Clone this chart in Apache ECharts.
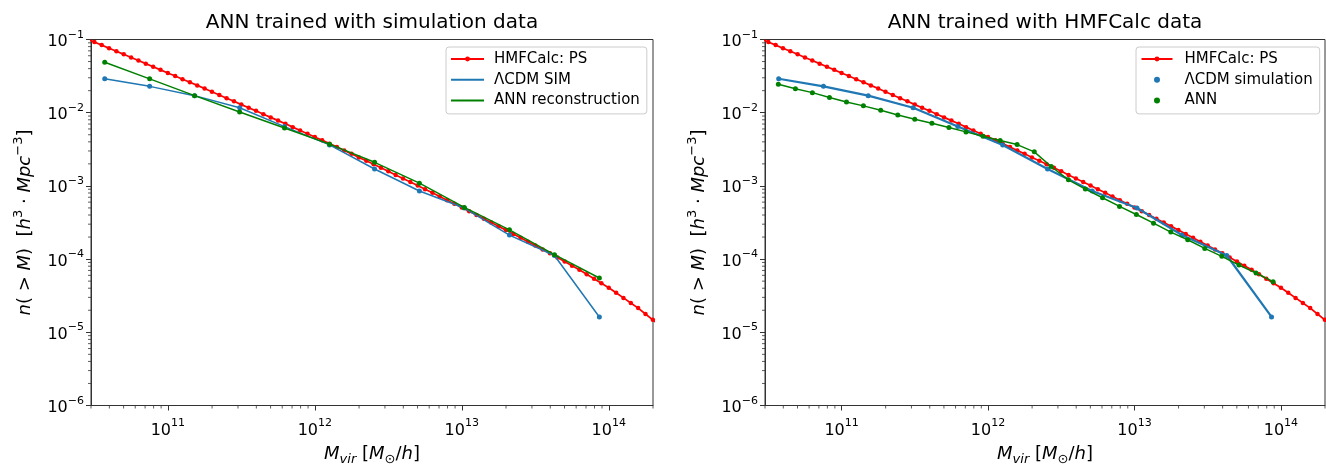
<!DOCTYPE html>
<html>
<head>
<meta charset="utf-8">
<title>Halo mass function: ANN reconstructions</title>
<script src="https://cdn.jsdelivr.net/npm/echarts@6/dist/echarts.min.js"></script>
<style>
  html, body { margin: 0; padding: 0; background: #ffffff; }
  #chart { width: 1326px; height: 464px; }
</style>
</head>
<body>
<div id="chart"></div>
<script>
// Press-Schechter cumulative mass function (HMFCalc), M in M_sun/h, n(>M) in h^3 Mpc^-3
const psMass = [
  2.818e10, 3.162e10, 3.548e10, 3.981e10, 4.467e10, 5.012e10, 5.623e10, 6.310e10, 7.079e10, 7.943e10, 8.913e10,
  1.000e11, 1.122e11, 1.259e11, 1.413e11, 1.585e11, 1.778e11, 1.995e11, 2.239e11, 2.512e11, 2.818e11,
  3.162e11, 3.548e11, 3.981e11, 4.467e11, 5.012e11, 5.623e11, 6.310e11, 7.079e11, 7.943e11, 8.913e11,
  1.000e12, 1.122e12, 1.259e12, 1.413e12, 1.585e12, 1.778e12, 1.995e12, 2.239e12, 2.512e12, 2.818e12,
  3.162e12, 3.548e12, 3.981e12, 4.467e12, 5.012e12, 5.623e12, 6.310e12, 7.079e12, 7.943e12, 8.913e12,
  1.000e13, 1.122e13, 1.259e13, 1.413e13, 1.585e13, 1.778e13, 1.995e13, 2.239e13, 2.512e13, 2.818e13,
  3.162e13, 3.548e13, 3.981e13, 4.467e13, 5.012e13, 5.623e13, 6.310e13, 7.079e13, 7.943e13, 8.913e13,
  1.000e14, 1.122e14, 1.259e14, 1.413e14, 1.585e14, 1.778e14, 1.995e14, 2.239e14
];
const psDensity = [
  1.016e-1, 9.23e-2, 8.38e-2, 7.60e-2, 6.90e-2, 6.27e-2, 5.69e-2, 5.16e-2, 4.68e-2, 4.25e-2, 3.85e-2,
  3.49e-2, 3.17e-2, 2.87e-2, 2.60e-2, 2.36e-2, 2.14e-2, 1.93e-2, 1.75e-2, 1.58e-2, 1.43e-2,
  1.29e-2, 1.17e-2, 1.06e-2, 9.55e-3, 8.63e-3, 7.80e-3, 7.05e-3, 6.35e-3, 5.73e-3, 5.16e-3,
  4.66e-3, 4.20e-3, 3.78e-3, 3.40e-3, 3.05e-3, 2.74e-3, 2.45e-3, 2.20e-3, 1.98e-3, 1.77e-3,
  1.58e-3, 1.41e-3, 1.26e-3, 1.13e-3, 1.01e-3, 9.02e-4, 8.04e-4, 7.16e-4, 6.38e-4, 5.69e-4,
  5.07e-4, 4.50e-4, 4.00e-4, 3.55e-4, 3.16e-4, 2.80e-4, 2.49e-4, 2.20e-4, 1.95e-4, 1.73e-4,
  1.53e-4, 1.35e-4, 1.20e-4, 1.05e-4, 9.25e-5, 8.13e-5, 7.14e-5, 6.21e-5, 5.40e-5, 4.69e-5,
  4.07e-5, 3.47e-5, 2.95e-5, 2.51e-5, 2.14e-5, 1.78e-5, 1.48e-5, 1.23e-5
];

// LambdaCDM simulation halo counts (same bins in both panels)
const simMass = [3.72e10, 7.52e10, 1.52e11, 3.08e11, 6.22e11, 1.26e12, 2.55e12, 5.15e12, 1.04e13, 2.11e13, 4.27e13, 8.63e13];
const simDensity = [2.91e-2, 2.29e-2, 1.71e-2, 1.17e-2, 6.46e-3, 3.63e-3, 1.70e-3, 8.51e-4, 4.98e-4, 2.13e-4, 1.12e-4, 1.62e-5];

// ANN trained on simulation data, evaluated on the simulation bins
const annSimDensity = [4.90e-2, 2.90e-2, 1.71e-2, 1.02e-2, 6.17e-3, 3.72e-3, 2.10e-3, 1.09e-3, 5.08e-4, 2.51e-4, 1.15e-4, 5.52e-5];

// ANN trained on HMFCalc data
const annHmfMass = [
  3.70e10, 4.84e10, 6.32e10, 8.27e10, 1.08e11, 1.41e11, 1.85e11, 2.42e11, 3.16e11, 4.14e11,
  5.41e11, 7.07e11, 9.25e11, 1.21e12, 1.58e12, 2.07e12, 2.70e12, 3.54e12, 4.62e12, 6.05e12,
  7.91e12, 1.03e13, 1.35e13, 1.77e13, 2.31e13, 3.02e13, 3.95e13, 5.17e13, 6.76e13, 8.84e13
];
const annHmfDensity = [
  2.44e-2, 2.13e-2, 1.88e-2, 1.61e-2, 1.40e-2, 1.24e-2, 1.08e-2, 9.33e-3, 8.15e-3, 7.18e-3,
  6.27e-3, 5.47e-3, 4.78e-3, 4.17e-3, 3.67e-3, 2.92e-3, 1.84e-3, 1.21e-3, 9.04e-4, 6.89e-4,
  5.24e-4, 4.07e-4, 3.10e-4, 2.34e-4, 1.84e-4, 1.40e-4, 1.09e-4, 8.30e-5, 6.46e-5, 4.92e-5
];

// Axis ranges and decade ticks
const massRange = [3e10, 2e14];
const densityRange = [1e-6, 1e-1];
const massTicks = [1e11, 1e12, 1e13, 1e14];
const densityTicks = [1e-6, 1e-5, 1e-4, 1e-3, 1e-2, 1e-1];

const panelTitles = ['ANN trained with simulation data', 'ANN trained with HMFCalc data'];

const RED = '#ff0000', BLUE = '#1f77b4', GREEN = '#008000', INK = '#000000', SPINE = '#333333';
const FONT = 'DejaVu Sans';

const pairs = (xs, ys) => xs.map((x, i) => [x, ys[i]]);

// log-scale minor tick positions (2..9 x 10^k) inside a range
function minorPositions(range, eMin, eMax) {
  const out = [];
  for (let e = eMin; e <= eMax; e++) {
    for (let m = 2; m <= 9; m++) {
      const v = m * Math.pow(10, e);
      if (v >= range[0] * 0.999999 && v <= range[1] * 1.000001) out.push(v);
    }
  }
  return out;
}
const massMinor = minorPositions(massRange, 10, 14);
const densityMinor = minorPositions(densityRange, -6, -2);

function powerLabel(v) {
  const e = Math.round(Math.log10(v));
  return '{b|10}{s|' + (e < 0 ? '\u2212' + (-e) : String(e)) + '}';
}
const tickRich = {
  b: { fontFamily: FONT, fontSize: 16, color: INK, verticalAlign: 'bottom' },
  s: { fontFamily: FONT, fontSize: 11, color: INK, verticalAlign: 'bottom', padding: [0, 0, 9.5, 0] }
};
const nameRichY = {
  i: { fontFamily: FONT, fontStyle: 'italic', fontSize: 18, color: INK, verticalAlign: 'bottom' },
  r: { fontFamily: FONT, fontSize: 18, color: INK, verticalAlign: 'bottom' },
  s: { fontFamily: FONT, fontSize: 13, color: INK, verticalAlign: 'bottom', padding: [0, 0, 8.5, 0] }
};
const nameRichX = {
  i: { fontFamily: FONT, fontStyle: 'italic', fontSize: 18, color: INK, verticalAlign: 'top' },
  r: { fontFamily: FONT, fontSize: 18, color: INK, verticalAlign: 'top' },
  si: { fontFamily: FONT, fontStyle: 'italic', fontSize: 13, color: INK, verticalAlign: 'top', padding: [8, 0, 0, 0] },
  su: { fontFamily: FONT, fontSize: 13, color: INK, verticalAlign: 'top', padding: [8, 0, 0, 0] }
};
const xName = '{i|M}{si|vir}{r| [}{i|M}{su|\u2299}{r|/}{i|h}{r|]}';
const yName = '{i|n}{r|( > }{i|M}{r|)  [}{i|h}{s|3}{r| \u00b7 }{i|Mpc}{s|\u22123}{r|]}';

// plot rectangles in pixels; outer bounds are not auto-fitted so the axes stay put
const grids = [
  { left: 91, top: 39.5, width: 562, height: 366 },
  { left: 765, top: 39.5, width: 560, height: 366 }
];

function makeXAxis(g) {
  return {
    type: 'log', logBase: 10, gridIndex: g, min: massRange[0], max: massRange[1],
    axisLine: { show: true, lineStyle: { color: SPINE, width: 1 } },
    axisTick: { show: true, inside: false, length: 5, customValues: massTicks, lineStyle: { color: SPINE, width: 1 } },
    axisLabel: { show: true, margin: 12.5, customValues: massTicks, formatter: powerLabel, rich: tickRich },
    splitLine: { show: false }, minorTick: { show: false },
    name: xName, nameLocation: 'middle', nameGap: 40,
    nameTextStyle: { fontFamily: FONT, fontSize: 18, color: INK, rich: nameRichX }
  };
}
function makeYAxis(g) {
  return {
    type: 'log', logBase: 10, gridIndex: g, min: densityRange[0], max: densityRange[1],
    axisLine: { show: true, lineStyle: { color: SPINE, width: 1 } },
    axisTick: { show: true, inside: false, length: 5, customValues: densityTicks, lineStyle: { color: SPINE, width: 1 } },
    axisLabel: { show: true, margin: 7, customValues: densityTicks, formatter: powerLabel, rich: tickRich },
    splitLine: { show: false }, minorTick: { show: false },
    name: yName, nameLocation: 'middle', nameGap: 57, nameRotate: 90,
    nameTextStyle: { fontFamily: FONT, fontSize: 18, color: INK, rich: nameRichY }
  };
}

// short outward minor ticks along the bottom and left spines
function minorTickSeries(g, values, dir) {
  return {
    type: 'custom', xAxisIndex: g, yAxisIndex: g, silent: true, clip: false, z: 1,
    data: values.map(v => dir === 'x' ? [v, densityRange[0]] : [massRange[0], v]),
    renderItem(params, api) {
      const p = api.coord([api.value(0), api.value(1)]);
      const shape = dir === 'x'
        ? { x1: p[0], y1: p[1], x2: p[0], y2: p[1] + 3 }
        : { x1: p[0], y1: p[1], x2: p[0] - 3, y2: p[1] };
      return { type: 'line', shape, style: { stroke: SPINE, lineWidth: 0.8 } };
    }
  };
}

function lineSeries(g, name, xs, ys, color, width, size, z) {
  return {
    type: 'line', name, xAxisIndex: g, yAxisIndex: g, data: pairs(xs, ys),
    symbol: 'circle', symbolSize: size, showAllSymbol: true, clip: true,
    lineStyle: { color, width }, itemStyle: { color }, z,
    emphasis: { disabled: true }
  };
}

const legendBase = {
  orient: 'vertical', top: 47, itemHeight: 6, itemGap: 5.7, selectedMode: false,
  backgroundColor: 'rgba(255,255,255,0.8)', borderColor: '#cccccc', borderWidth: 1, borderRadius: 3
};

const option = {
  animation: false,
  backgroundColor: '#ffffff',
  title: [
    { text: panelTitles[0], left: 372, top: 12.5, textAlign: 'center', padding: 0,
      textStyle: { fontFamily: FONT, fontSize: 20, fontWeight: 'normal', color: INK } },
    { text: panelTitles[1], left: 1045, top: 12.5, textAlign: 'center', padding: 0,
      textStyle: { fontFamily: FONT, fontSize: 20, fontWeight: 'normal', color: INK } }
  ],
  grid: grids.map(g => Object.assign({
    show: true, borderColor: SPINE, borderWidth: 1, backgroundColor: 'transparent',
    containLabel: false, outerBoundsMode: 'none'
  }, g)),
  xAxis: [makeXAxis(0), makeXAxis(1)],
  yAxis: [makeYAxis(0), makeYAxis(1)],
  legend: [
    Object.assign({}, legendBase, {
      left: 446, padding: [4.5, 7, 6, 4], itemWidth: 33,
      textStyle: { fontFamily: FONT, fontSize: 15, color: INK, padding: [0, 0, 0, 5] },
      data: [
        { name: 'HMFCalc: PS' },
        { name: '\u039bCDM SIM', itemStyle: { opacity: 0 } },
        { name: 'ANN reconstruction', itemStyle: { opacity: 0 } }
      ]
    }),
    Object.assign({}, legendBase, {
      left: 1136, padding: [4.5, 7, 6, 4.5], itemWidth: 31,
      textStyle: { fontFamily: FONT, fontSize: 15, color: INK, padding: [0, 0, 0, 7] },
      data: [
        { name: 'HMFCalc: PS' },
        { name: '\u039bCDM simulation', icon: 'circle' },
        { name: 'ANN', icon: 'circle' }
      ]
    })
  ],
  series: [
    minorTickSeries(0, massMinor, 'x'), minorTickSeries(0, densityMinor, 'y'),
    minorTickSeries(1, massMinor, 'x'), minorTickSeries(1, densityMinor, 'y'),
    lineSeries(0, 'HMFCalc: PS', psMass, psDensity, RED, 1.7, 4.5, 2),
    lineSeries(0, '\u039bCDM SIM', simMass, simDensity, BLUE, 1.5, 5, 3),
    lineSeries(0, 'ANN reconstruction', simMass, annSimDensity, GREEN, 1.5, 5, 4),
    lineSeries(1, 'HMFCalc: PS', psMass, psDensity, RED, 1.7, 4.5, 2),
    lineSeries(1, '\u039bCDM simulation', simMass, simDensity, BLUE, 2.2, 5, 3),
    lineSeries(1, 'ANN', annHmfMass, annHmfDensity, GREEN, 1.5, 5, 4)
  ]
};

const chart = echarts.init(document.getElementById('chart'), null, { renderer: 'canvas', width: 1326, height: 464 });
chart.setOption(option);
</script>
</body>
</html>
